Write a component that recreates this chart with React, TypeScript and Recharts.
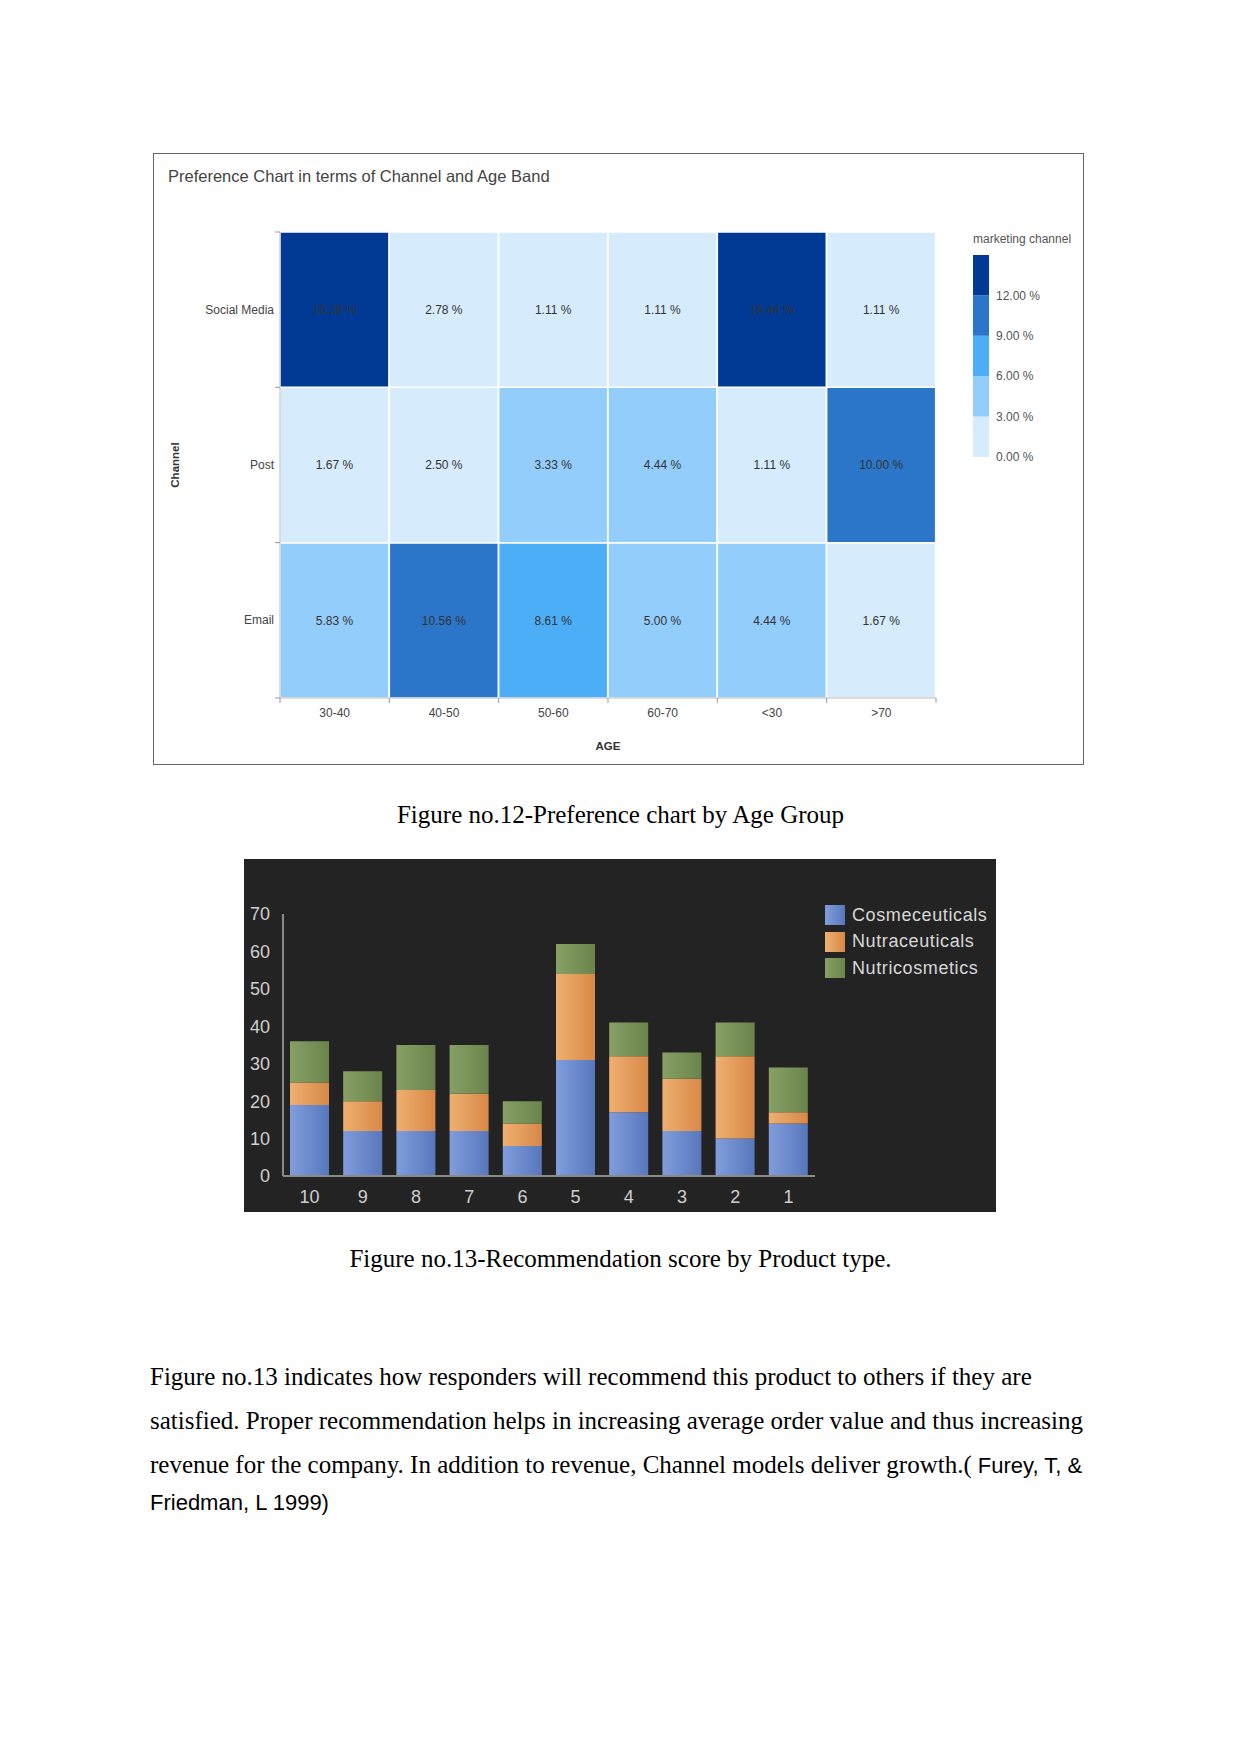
import React from "react";
import { BarChart, Bar, XAxis, YAxis, Cell, LabelList } from "recharts";

// Figure 12 - heatmap values (percent), one array per channel
const ageBands = ["30-40", "40-50", "50-60", "60-70", "<30", ">70"];
const socialMedia = [15.28, 2.78, 1.11, 1.11, 19.44, 1.11];
const post = [1.67, 2.5, 3.33, 4.44, 1.11, 10.0];
const email = [5.83, 10.56, 8.61, 5.0, 4.44, 1.67];
// bottom-up order of the stacked rows
const channelRows = ["Email", "Post", "Social Media"];

// colour scale of the heatmap legend
const scaleSteps = [0, 3, 6, 9, 12, 15];
const scaleColors = ["#d6ebfc", "#93cdfb", "#4daef8", "#2b76c9", "#003a94"];

// Figure 13 - recommendation score by product type
const scores = ["10", "9", "8", "7", "6", "5", "4", "3", "2", "1"];
const cosmeceuticals = [19, 12, 12, 12, 8, 31, 17, 12, 10, 14];
const nutraceuticals = [6, 8, 11, 10, 6, 23, 15, 14, 22, 3];
const nutricosmetics = [11, 8, 12, 13, 6, 8, 9, 7, 9, 12];
const yTicks = [0, 10, 20, 30, 40, 50, 60, 70];

const products = [
  { key: "cos", name: "Cosmeceuticals", from: "#819ddd", to: "#5877bb" },
  { key: "nut", name: "Nutraceuticals", from: "#eeb070", to: "#d88847" },
  { key: "nco", name: "Nutricosmetics", from: "#87a064", to: "#6b844c" },
];

const heatData = ageBands.map((age, i) => ({
  age,
  email: 1,
  post: 1,
  social: 1,
  emailPct: email[i],
  postPct: post[i],
  socialPct: socialMedia[i],
}));

const scaleData = [
  scaleColors.reduce((row: any, _c, i) => {
    row["s" + i] = scaleSteps[i + 1] - scaleSteps[i];
    return row;
  }, { name: "scale" }),
];

const scoreData = scores.map((score, i) => ({
  score,
  cos: cosmeceuticals[i],
  nut: nutraceuticals[i],
  nco: nutricosmetics[i],
}));

const colorFor = (v: number) => {
  for (let i = scaleSteps.length - 2; i >= 0; i--) {
    if (v >= scaleSteps[i]) return scaleColors[i];
  }
  return scaleColors[0];
};

const sans = "'Liberation Sans', Arial, sans-serif";
const serif = "'Liberation Serif', 'Times New Roman', serif";
const pct = (v: any) => Number(v).toFixed(2) + " %";

const ChannelTick = (props: any) => {
  const { x, y, payload } = props;
  const v = payload.value;
  if (Number.isInteger(v)) {
    return <line x1={x - 5} x2={x} y1={y} y2={y} stroke="#9a9a9a" />;
  }
  return (
    <text x={x - 6} y={y} dy={4} textAnchor="end" fontSize={12} fill="#444" fontFamily={sans}>
      {channelRows[Math.floor(v)]}
    </text>
  );
};

const AgeTick = (props: any) => {
  const { x, y, payload, index, width, visibleTicksCount } = props;
  const half =
    payload?.offset || (width && visibleTicksCount ? width / visibleTicksCount / 2 : 54.7);
  const last = index === ageBands.length - 1;
  return (
    <g>
      <line x1={x - half} x2={x - half} y1={y} y2={y + 5} stroke="#9a9a9a" />
      {last && <line x1={x + half} x2={x + half} y1={y} y2={y + 5} stroke="#9a9a9a" />}
      <text x={x} y={y + 19} textAnchor="middle" fontSize={12} fill="#444" fontFamily={sans}>
        {payload.value}
      </text>
    </g>
  );
};

const ChannelLabel = (props: any) => {
  const vb = props.viewBox || {};
  const cx = vb.x + 22;
  const cy = vb.y + vb.height / 2;
  return (
    <text
      x={cx}
      y={cy}
      transform={`rotate(-90 ${cx} ${cy})`}
      textAnchor="middle"
      dy={4}
      fontSize={11.5}
      fontWeight="bold"
      fill="#333"
      fontFamily={sans}
    >
      Channel
    </text>
  );
};

const HeatMap = () => (
  <BarChart
    width={931}
    height={612}
    data={heatData}
    margin={{ top: 79, right: 148, bottom: 0, left: 0 }}
    barCategoryGap={0}
  >
    <XAxis
      dataKey="age"
      height={67}
      tickSize={0}
      tickMargin={0}
      interval={0}
      axisLine={{ stroke: "#bbb" }}
      tick={<AgeTick />}
      label={{
        value: "AGE",
        position: "insideBottom",
        offset: 15,
        fontSize: 11.5,
        fontWeight: "bold",
        fill: "#333",
        fontFamily: sans,
      }}
    />
    <YAxis
      type="number"
      domain={[0, 3]}
      ticks={[0, 0.5, 1, 1.5, 2, 2.5, 3]}
      interval={0}
      width={127}
      tickSize={0}
      tickMargin={0}
      tickLine={false}
      axisLine={{ stroke: "#bbb" }}
      tick={<ChannelTick />}
      label={<ChannelLabel />}
    />
    {[
      { key: "email", pctKey: "emailPct", values: email },
      { key: "post", pctKey: "postPct", values: post },
      { key: "social", pctKey: "socialPct", values: socialMedia },
    ].map((row) => (
      <Bar
        key={row.key}
        dataKey={row.key}
        stackId="heat"
        stroke="#ffffff"
        strokeWidth={1.5}
        isAnimationActive={false}
      >
        {row.values.map((v, i) => (
          <Cell key={`${row.key}-${i}`} fill={colorFor(v)} />
        ))}
        <LabelList
          dataKey={row.pctKey}
          position="center"
          formatter={pct}
          fontSize={12}
          fill="#333"
          fontFamily={sans}
        />
      </Bar>
    ))}
  </BarChart>
);

const ScaleLegend = () => (
  <BarChart
    width={90}
    height={222}
    data={scaleData}
    margin={{ top: 10, right: 0, bottom: 10, left: 0 }}
    barCategoryGap={0}
  >
    <XAxis dataKey="name" hide />
    <YAxis
      orientation="right"
      type="number"
      domain={[0, 15]}
      ticks={scaleSteps.slice(0, -1)}
      interval={0}
      width={74}
      tickSize={0}
      tickMargin={7}
      axisLine={false}
      tickLine={false}
      tickFormatter={pct}
      tick={{ fontSize: 12, fill: "#555", fontFamily: sans, textAnchor: "start" }}
    />
    {scaleColors.map((c, i) => (
      <Bar key={c} dataKey={"s" + i} stackId="scale" fill={c} isAnimationActive={false} />
    ))}
  </BarChart>
);

const ScoreChart = () => (
  <BarChart
    width={752}
    height={353}
    data={scoreData}
    margin={{ top: 55, right: 181, bottom: 0, left: 0 }}
    barCategoryGap={7}
  >
    <defs>
      {products.map((p) => (
        <linearGradient key={p.key} id={`grad-${p.key}`} x1="0" y1="0" x2="1" y2="0">
          <stop offset="0%" stopColor={p.from} />
          <stop offset="100%" stopColor={p.to} />
        </linearGradient>
      ))}
    </defs>
    <XAxis
      dataKey="score"
      height={36}
      tickSize={0}
      tickMargin={14}
      tickLine={false}
      interval={0}
      axisLine={{ stroke: "#8a8a8a", strokeWidth: 2 }}
      tick={{ fontSize: 18, fill: "#cfcfcf", fontFamily: sans }}
    />
    <YAxis
      type="number"
      domain={[0, 70]}
      ticks={yTicks}
      interval={0}
      width={39}
      tickSize={0}
      tickMargin={13}
      tickLine={false}
      axisLine={{ stroke: "#8a8a8a", strokeWidth: 2 }}
      tick={{ fontSize: 18, fill: "#cfcfcf", fontFamily: sans }}
    />
    {products.map((p) => (
      <Bar
        key={p.key}
        dataKey={p.key}
        name={p.name}
        stackId="score"
        fill={`url(#grad-${p.key})`}
        isAnimationActive={false}
      />
    ))}
  </BarChart>
);

const abs = (left: number, top: number, extra: React.CSSProperties = {}): React.CSSProperties => ({
  position: "absolute",
  left,
  top,
  ...extra,
});

export default function App() {
  return (
    <div style={abs(0, 0, { width: 1241, height: 1754, background: "#fff", overflow: "hidden" })}>
      {/* Figure 12 frame */}
      <div
        style={abs(153, 153, {
          width: 931,
          height: 612,
          border: "1.5px solid #666",
          boxSizing: "border-box",
        })}
      />
      <div
        style={abs(168, 165, {
          fontFamily: sans,
          fontSize: 16.5,
          lineHeight: "22px",
          color: "#444",
          whiteSpace: "nowrap",
        })}
      >
        Preference Chart in terms of Channel and Age Band
      </div>
      <div style={abs(153, 153)}>
        <HeatMap />
      </div>
      <div
        style={abs(973, 231, {
          fontFamily: sans,
          fontSize: 12,
          lineHeight: "16px",
          color: "#555",
          whiteSpace: "nowrap",
        })}
      >
        marketing channel
      </div>
      <div style={abs(973, 245)}>
        <ScaleLegend />
      </div>

      <div
        style={abs(0, 800, {
          width: 1241,
          textAlign: "center",
          fontFamily: serif,
          fontSize: 25,
          lineHeight: "30px",
          color: "#000",
        })}
      >
        Figure no.12-Preference chart by Age Group
      </div>

      {/* Figure 13 dark panel */}
      <div style={abs(244, 859, { width: 752, height: 353, background: "#232323" })}>
        <ScoreChart />
        <div style={abs(581, 43, { fontFamily: sans, fontSize: 18, color: "#d8d8d8" })}>
          {products.map((p) => (
            <div
              key={p.key}
              style={{ display: "flex", alignItems: "center", height: 26.5, letterSpacing: 0.6 }}
            >
              <span
                style={{
                  display: "inline-block",
                  width: 20,
                  height: 20,
                  marginRight: 7,
                  background: `linear-gradient(to right, ${p.from}, ${p.to})`,
                }}
              />
              {p.name}
            </div>
          ))}
        </div>
      </div>

      <div
        style={abs(0, 1244, {
          width: 1241,
          textAlign: "center",
          fontFamily: serif,
          fontSize: 25,
          lineHeight: "30px",
          color: "#000",
        })}
      >
        Figure no.13-Recommendation score by Product type.
      </div>

      <div style={abs(150, 1362, { fontFamily: serif, fontSize: 25, lineHeight: "30px", whiteSpace: "nowrap" })}>
        Figure no.13 indicates how responders will recommend this product to others if they are
      </div>
      <div style={abs(150, 1406, { fontFamily: serif, fontSize: 25, lineHeight: "30px", whiteSpace: "nowrap" })}>
        satisfied. Proper recommendation helps in increasing average order value and thus increasing
      </div>
      <div style={abs(150, 1450, { fontFamily: serif, fontSize: 25, lineHeight: "30px", whiteSpace: "nowrap" })}>
        revenue for the company. In addition to revenue, Channel models deliver growth.(
        <span style={{ fontFamily: sans, fontSize: 22 }}> Furey, T, &amp;</span>
      </div>
      <div style={abs(150, 1488, { fontFamily: sans, fontSize: 22, lineHeight: "30px", whiteSpace: "nowrap" })}>
        Friedman, L 1999)
      </div>
    </div>
  );
}
